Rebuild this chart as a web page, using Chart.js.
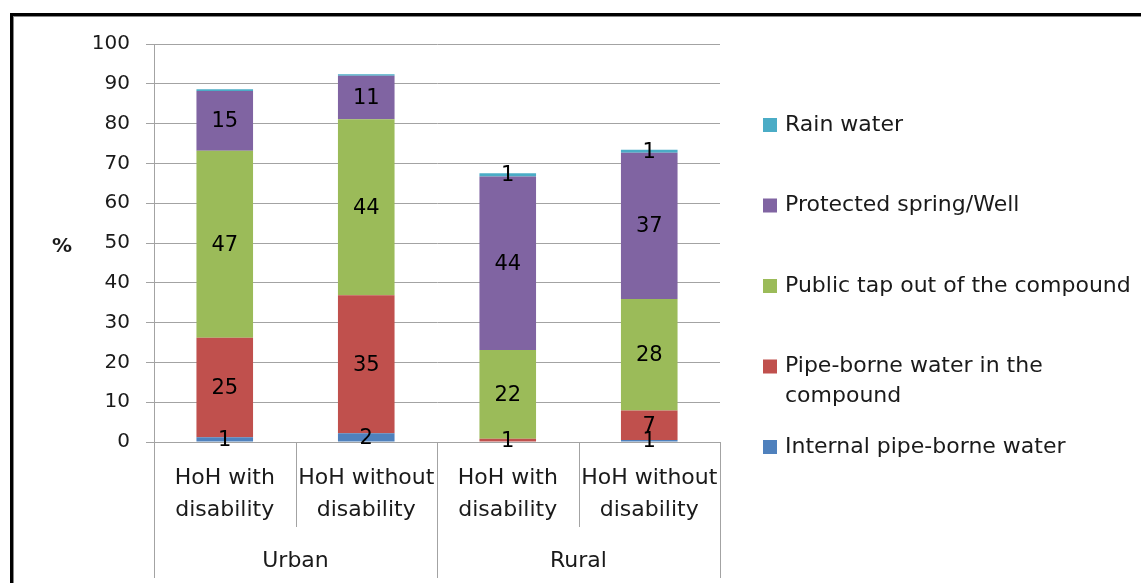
<!DOCTYPE html>
<html lang="en">
<head>
<meta charset="UTF-8">
<title>Source of drinking water by disability status of head of household</title>
<script src="https://cdn.jsdelivr.net/npm/chart.js"></script>
<style>
  body { margin: 0; background: #fff; }
  .wrap { position: relative; width: 1141px; height: 583px; overflow: hidden; }
  .frame { position: absolute; left: 10px; top: 13px; width: 1200px; height: 700px;
           border-left: 3px solid #000; border-top: 3px solid #000;
           box-shadow: 1px 1px 0 #888 inset; }
  canvas { position: absolute; left: 0; top: 0; }
</style>
</head>
<body>
<div class="wrap">
  <div class="frame"></div>
  <canvas id="chart" width="1141" height="583"></canvas>
</div>
<script>
// categories (two-level axis)
const barLabels = [['HoH with', 'disability'], ['HoH without', 'disability'], ['HoH with', 'disability'], ['HoH without', 'disability']];
const groupNames = ['Urban', 'Rural'];
const perGroup = 2;

// series values (%)
const internalPipe  = [1.2, 2.2, 0.0, 0.5];
const pipeCompound  = [25.0, 34.7, 0.8, 7.4];
const publicTap     = [47.0, 44.2, 22.3, 28.0];
const protectedWell = [15.0, 10.9, 43.6, 36.8];
const rainWater     = [0.4, 0.4, 0.8, 0.7];

const seriesNames = ['Internal pipe-borne water', 'Pipe-borne water in the compound',
  'Public tap out of the compound', 'Protected spring/Well', 'Rain water'];
const legendLines = [['Internal pipe-borne water'], ['Pipe-borne water in the', 'compound'],
  ['Public tap out of the compound'], ['Protected spring/Well'], ['Rain water']];
const colors = ['#4F81BD', '#C0504D', '#9BBB59', '#8064A2', '#4BACC6'];

const yTicks = [0, 10, 20, 30, 40, 50, 60, 70, 80, 90, 100];

const FONT = "'DejaVu Sans', sans-serif";
const GRID = '#A3A3A3';
const TEXT = '#1a1a1a';

// numbers inside the bar segments
const valueLabels = {
  id: 'valueLabels',
  afterDatasetsDraw(chart) {
    const ctx = chart.ctx;
    ctx.save();
    ctx.font = '21px ' + FONT;
    ctx.fillStyle = '#000';
    ctx.textAlign = 'center';
    ctx.textBaseline = 'middle';
    chart.data.datasets.forEach((ds, i) => {
      chart.getDatasetMeta(i).data.forEach((bar, j) => {
        const v = Math.round(ds.data[j]);
        if (v < 1) return;
        ctx.fillText(String(v), bar.x, (bar.y + bar.base) / 2 + 1);
      });
    });
    ctx.restore();
  }
};

// multi-level x axis, "%" title and legend on the right
const decor = {
  id: 'decor',
  afterDraw(chart) {
    const ctx = chart.ctx;
    const x = chart.scales.x;
    const area = chart.chartArea;
    const n = barLabels.length;
    const step = (area.right - area.left) / n;
    ctx.save();
    ctx.strokeStyle = GRID;
    ctx.lineWidth = 1;
    for (let i = 0; i <= n; i++) {
      const px = Math.round(area.left + i * step) + 0.5;
      const end = (i % perGroup === 0) ? 578 : 527;
      ctx.beginPath();
      ctx.moveTo(px, area.bottom);
      ctx.lineTo(px, end);
      ctx.stroke();
    }
    ctx.fillStyle = TEXT;
    ctx.font = '22px ' + FONT;
    ctx.textAlign = 'center';
    ctx.textBaseline = 'middle';
    barLabels.forEach((lines, j) => {
      const cx = x.getPixelForValue(j);
      lines.forEach((t, k) => ctx.fillText(t, cx, area.bottom + 36 + k * 32));
    });
    groupNames.forEach((g, gi) => {
      const a = x.getPixelForValue(gi * perGroup);
      const b = x.getPixelForValue(gi * perGroup + perGroup - 1);
      ctx.fillText(g, (a + b) / 2, area.bottom + 119);
    });
    // axis title
    ctx.font = 'bold 20px ' + FONT;
    ctx.fillText('%', 62, (area.top + area.bottom) / 2 + 4);
    // legend (reverse order, like the stack)
    ctx.font = '22px ' + FONT;
    ctx.textAlign = 'left';
    const order = seriesNames.map((_, i) => i).reverse();
    order.forEach((si, k) => {
      const cy = 125 + k * 80.5;
      ctx.fillStyle = colors[si];
      ctx.fillRect(763, cy - 7, 14, 14);
      ctx.fillStyle = TEXT;
      legendLines[si].forEach((t, l) => ctx.fillText(t, 785, cy + l * 30));
    });
    ctx.restore();
  }
};

const seriesData = [internalPipe, pipeCompound, publicTap, protectedWell, rainWater];

new Chart(document.getElementById('chart'), {
  type: 'bar',
  data: {
    labels: barLabels.map(l => l.join(' ')),
    datasets: seriesData.map((d, i) => ({
      label: seriesNames[i],
      data: d,
      backgroundColor: colors[i],
      borderWidth: 0,
      categoryPercentage: 1,
      barPercentage: 0.4
    }))
  },
  options: {
    responsive: false,
    animation: false,
    layout: { padding: { left: 0, top: 44, right: 421, bottom: 0 } },
    plugins: { legend: { display: false }, tooltip: { enabled: false } },
    scales: {
      x: {
        stacked: true,
        grid: { display: false },
        border: { color: GRID },
        ticks: { display: false },
        afterFit(s) { s.height = 141; }
      },
      y: {
        stacked: true,
        min: 0, max: 100,
        afterBuildTicks(s) { s.ticks = yTicks.map(v => ({ value: v })); },
        grid: { color: GRID, tickLength: 8 },
        border: { color: GRID },
        ticks: { font: { family: FONT, size: 20 }, color: TEXT, padding: 16 },
        afterFit(s) { s.width = 154; }
      }
    }
  },
  plugins: [valueLabels, decor]
});
</script>
</body>
</html>
